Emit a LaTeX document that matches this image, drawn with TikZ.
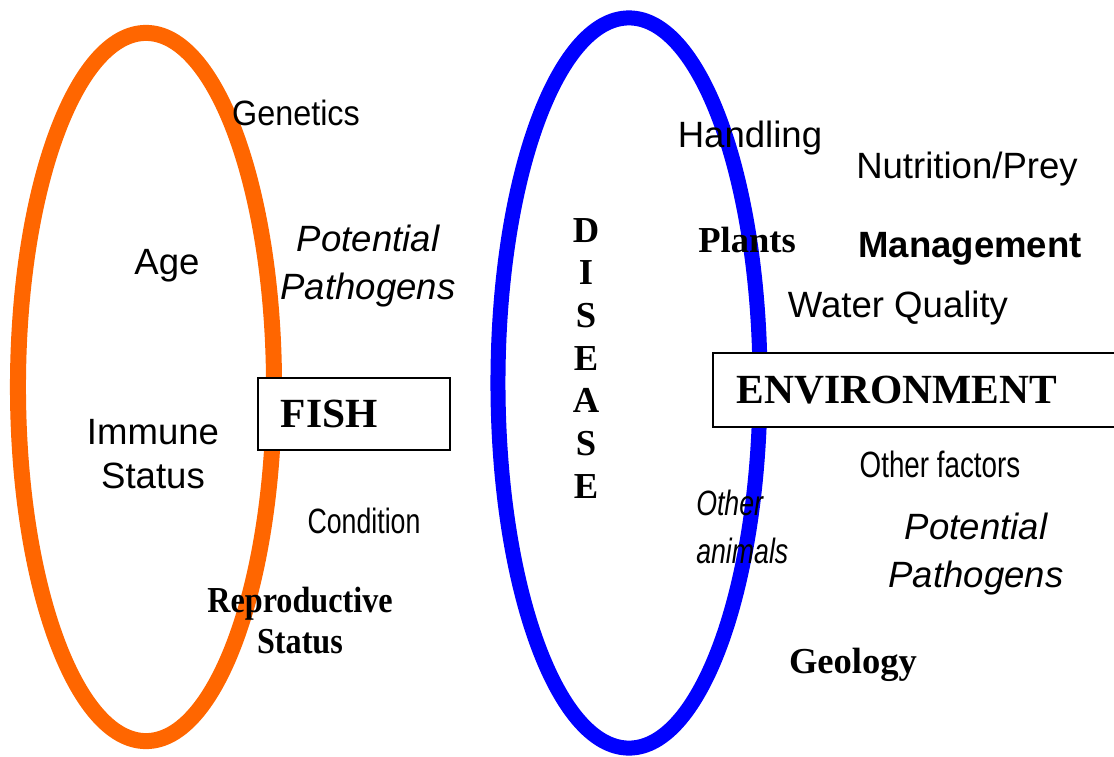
\documentclass[tikz,border=0pt]{standalone}
\usepackage{fontspec}
\setmainfont{Liberation Sans}
\newfontfamily\narrowsans[FakeStretch=0.76]{Liberation Sans}
\newfontfamily\slimsans[FakeStretch=0.92]{Liberation Sans}
\newfontfamily\titleserif{Liberation Serif}
\newfontfamily\tightserif[FakeStretch=0.88]{Liberation Serif}
\usetikzlibrary{positioning}
\definecolor{fishorange}{HTML}{FF6600}
\definecolor{diseaseblue}{HTML}{0000FF}

\begin{document}
\begin{tikzpicture}[x=0.025cm, y=-0.025cm,
    fishring/.style={draw=fishorange, line width=0.4cm},
    diseasering/.style={draw=diseaseblue, line width=0.375cm},
    box/.style={draw, line width=2pt, fill=white, align=left, inner ysep=0pt,
      font=\fontsize{29.5}{32}\selectfont\titleserif\bfseries},
    plain/.style={font=\fontsize{26}{33}\selectfont, align=center, anchor=base, inner sep=0pt},
    slanted/.style={plain, font=\fontsize{26}{34}\selectfont\itshape},
    narrow/.style={plain, font=\fontsize{25}{34}\selectfont\narrowsans},
    heavy/.style={plain, font=\fontsize{26}{33}\selectfont\bfseries},
    serifbold/.style={plain, font=\fontsize{26}{29}\selectfont\tightserif\bfseries},
    letter/.style={plain, font=\fontsize{26}{30}\selectfont\titleserif\bfseries}
  ]
    \useasboundingbox (0,0) rectangle (1114,757);

    % the two rings
    \draw[fishring]    (146,387) ellipse [x radius=3.2cm, y radius=8.85cm];
    \draw[diseasering] (629,383) ellipse [x radius=3.275cm, y radius=9.125cm];

    % boxes
    \node[box, minimum height=1.8cm, text width=3.65cm, inner xsep=0.575cm] (fish) at (354,414) {FISH};
    \node[box, minimum height=1.85cm, text width=9.225cm, inner xsep=0.6cm] (env) at (921.5,390) {ENVIRONMENT};

    % fish side (two-line labels sit on their last baseline)
    \node[plain, font=\fontsize{25}{30}\selectfont\slimsans] (genetics) at (296,125) {Genetics};
    \node[plain] (age) at (167,274) {Age};
    \node[slanted, font=\fontsize{26}{33.5}\selectfont\itshape] (pathleft) at (368,299) {Potential\\Pathogens};
    \node[plain, font=\fontsize{26}{30.6}\selectfont] (immune) at (153,488) {Immune\\Status};
    \node[narrow] (condition) at (364,533) {Condition};
    \node[serifbold] (repro) at (300,653) {Reproductive\\Status};

    % disease column
    \foreach \ch [count=\k from 0] in {D,I,S,E,A,S,E}
      \node[letter] (dis\k) at (586,242+42.7*\k) {\ch};

    % environment side
    \node[plain] (handling) at (750,147) {Handling};
    \node[plain] (nutrition) at (967,178) {Nutrition/Prey};
    \node[letter] (plants) at (747,252) {Plants};
    \node[heavy] (management) at (970,257) {Management};
    \node[plain] (water) at (898,317) {Water Quality};
    \node[narrow, font=\fontsize{26}{34}\selectfont\narrowsans] (factors) at (940,477) {Other factors};
    \node[narrow, font=\fontsize{25}{34}\selectfont\narrowsans\itshape, align=left, anchor=base west] (animals) at (696,563) {Other\\animals};
    \node[slanted] (pathright) at (976,587) {Potential\\Pathogens};
    \node[letter] (geology) at (853,673) {Geology};
\end{tikzpicture}
\end{document}
